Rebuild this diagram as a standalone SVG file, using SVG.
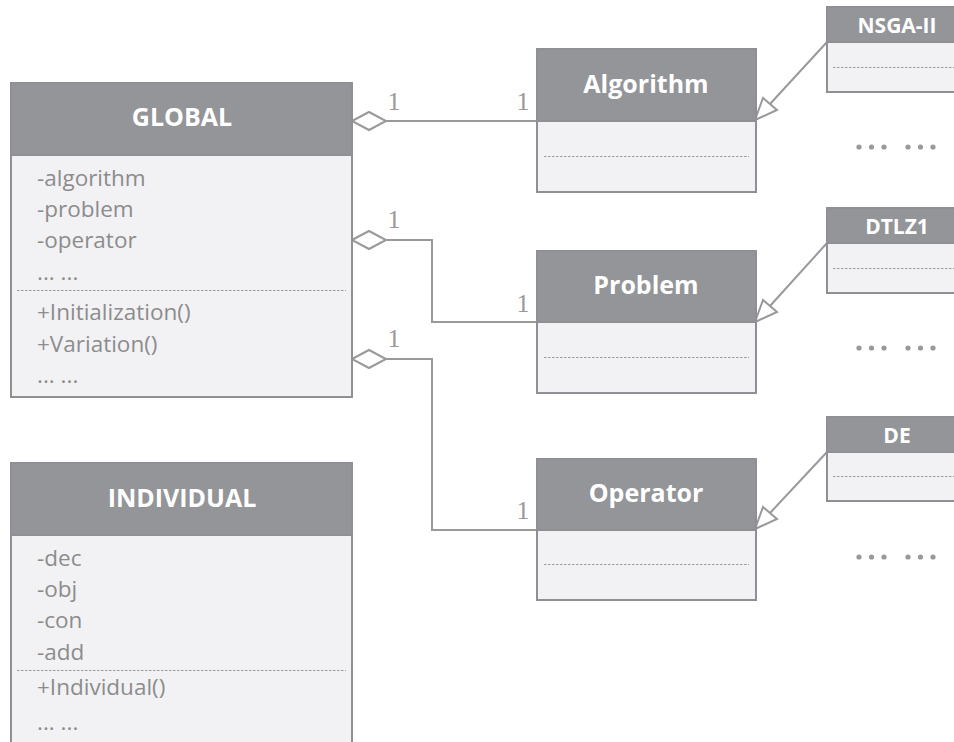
<svg xmlns="http://www.w3.org/2000/svg" width="954" height="742" viewBox="0 0 954 742">
<style>
.body{fill:#f2f2f4;stroke:#8f9093;stroke-width:2}
.head{fill:#939598;stroke:#8f9093;stroke-width:2}
.dash{stroke:#999;stroke-width:1;stroke-dasharray:2.5 1.5;fill:none}
.title{font-family:"Open Sans","Liberation Sans",sans-serif;font-weight:bold;fill:#ffffff;text-anchor:middle}
.attr{font-family:"Open Sans","Liberation Sans",sans-serif;font-size:22.5px;fill:#8c8c8c}
.conn{stroke:#999;stroke-width:2;fill:none}
.dia{stroke:#999;stroke-width:2;fill:#ffffff}
.tri{stroke:#999;stroke-width:2;fill:#ffffff}
.mult{font-family:"Liberation Serif",serif;font-size:26px;fill:#999;text-anchor:middle}
.dot{fill:#999}
</style>
<rect width="954" height="742" fill="#ffffff"/>

<g id="connectors">
  <line class="conn" x1="386" y1="121" x2="537" y2="121"/>
  <polygon class="dia" points="352,121 369,112 386,121 369,130"/>
  <polyline class="conn" points="386,240 432,240 432,322 537,322"/>
  <polygon class="dia" points="352,240 369,231 386,240 369,249"/>
  <polyline class="conn" points="386,359 432,359 432,530 537,530"/>
  <polygon class="dia" points="352,359 369,350 386,359 369,368"/>
  <text class="mult" x="394" y="110">1</text>
  <text class="mult" x="523" y="110">1</text>
  <text class="mult" x="394" y="228">1</text>
  <text class="mult" x="523" y="312">1</text>
  <text class="mult" x="394" y="347">1</text>
  <text class="mult" x="523" y="519">1</text>
  <line class="conn" x1="827" y1="42" x2="770" y2="104"/>
  <polygon class="tri" points="755,120 763,98 777,110"/>
  <line class="conn" x1="827" y1="243" x2="770" y2="306"/>
  <polygon class="tri" points="755,322 763,300 777,312"/>
  <line class="conn" x1="827" y1="452" x2="770" y2="513"/>
  <polygon class="tri" points="755,529 763,507 777,519"/>
</g>

<g id="global">
  <rect class="body" x="11" y="83" width="341" height="314"/>
  <rect class="head" x="11" y="83" width="341" height="72"/>
  <text class="title" x="182" y="126" font-size="25">GLOBAL</text>
  <text class="attr" x="37" y="186">-algorithm</text>
  <text class="attr" x="37" y="217">-problem</text>
  <text class="attr" x="37" y="248">-operator</text>
  <text class="attr" x="37" y="280">... ...</text>
  <line class="dash" x1="17" y1="290.5" x2="346" y2="290.5"/>
  <text class="attr" x="37" y="320">+Initialization()</text>
  <text class="attr" x="37" y="352">+Variation()</text>
  <text class="attr" x="37" y="383">... ...</text>
</g>

<g id="individual">
  <rect class="body" x="11" y="463" width="341" height="290"/>
  <rect class="head" x="11" y="463" width="341" height="72"/>
  <text class="title" x="182" y="507" font-size="25">INDIVIDUAL</text>
  <text class="attr" x="37" y="566">-dec</text>
  <text class="attr" x="37" y="597">-obj</text>
  <text class="attr" x="37" y="628">-con</text>
  <text class="attr" x="37" y="660">-add</text>
  <line class="dash" x1="17" y1="670.5" x2="346" y2="670.5"/>
  <text class="attr" x="37" y="695">+Individual()</text>
  <text class="attr" x="37" y="730">... ...</text>
</g>

<g id="algorithm">
  <rect class="body" x="537" y="49" width="219" height="143"/>
  <rect class="head" x="537" y="49" width="219" height="72"/>
  <text class="title" x="646" y="93" font-size="25">Algorithm</text>
  <line class="dash" x1="544" y1="156.5" x2="749" y2="156.5"/>
</g>

<g id="problem">
  <rect class="body" x="537" y="251" width="219" height="142"/>
  <rect class="head" x="537" y="251" width="219" height="71"/>
  <text class="title" x="646" y="294" font-size="25">Problem</text>
  <line class="dash" x1="544" y1="357.5" x2="749" y2="357.5"/>
</g>

<g id="operator">
  <rect class="body" x="537" y="459" width="219" height="141"/>
  <rect class="head" x="537" y="459" width="219" height="71"/>
  <text class="title" x="646" y="502" font-size="25">Operator</text>
  <line class="dash" x1="544" y1="564.5" x2="749" y2="564.5"/>
</g>

<g id="nsga2">
  <rect class="body" x="827" y="7" width="140" height="85"/>
  <rect class="head" x="827" y="7" width="140" height="35"/>
  <text class="title" x="897" y="32.5" font-size="21">NSGA-II</text>
  <line class="dash" x1="833" y1="67.5" x2="954" y2="67.5"/>
</g>

<g id="dtlz1">
  <rect class="body" x="827" y="208" width="140" height="85"/>
  <rect class="head" x="827" y="208" width="140" height="35"/>
  <text class="title" x="897" y="233.5" font-size="21">DTLZ1</text>
  <line class="dash" x1="833" y1="268.5" x2="954" y2="268.5"/>
</g>

<g id="de">
  <rect class="body" x="827" y="417" width="140" height="84"/>
  <rect class="head" x="827" y="417" width="140" height="35"/>
  <text class="title" x="897" y="442.5" font-size="21">DE</text>
  <line class="dash" x1="833" y1="476.5" x2="954" y2="476.5"/>
</g>

<g id="ellipses">
  <circle class="dot" cx="859" cy="147" r="2.6"/><circle class="dot" cx="871.5" cy="147" r="2.6"/><circle class="dot" cx="884" cy="147" r="2.6"/>
  <circle class="dot" cx="908" cy="147" r="2.6"/><circle class="dot" cx="920.5" cy="147" r="2.6"/><circle class="dot" cx="933" cy="147" r="2.6"/>
  <circle class="dot" cx="859" cy="348" r="2.6"/><circle class="dot" cx="871.5" cy="348" r="2.6"/><circle class="dot" cx="884" cy="348" r="2.6"/>
  <circle class="dot" cx="908" cy="348" r="2.6"/><circle class="dot" cx="920.5" cy="348" r="2.6"/><circle class="dot" cx="933" cy="348" r="2.6"/>
  <circle class="dot" cx="859" cy="557" r="2.6"/><circle class="dot" cx="871.5" cy="557" r="2.6"/><circle class="dot" cx="884" cy="557" r="2.6"/>
  <circle class="dot" cx="908" cy="557" r="2.6"/><circle class="dot" cx="920.5" cy="557" r="2.6"/><circle class="dot" cx="933" cy="557" r="2.6"/>
</g>
</svg>
